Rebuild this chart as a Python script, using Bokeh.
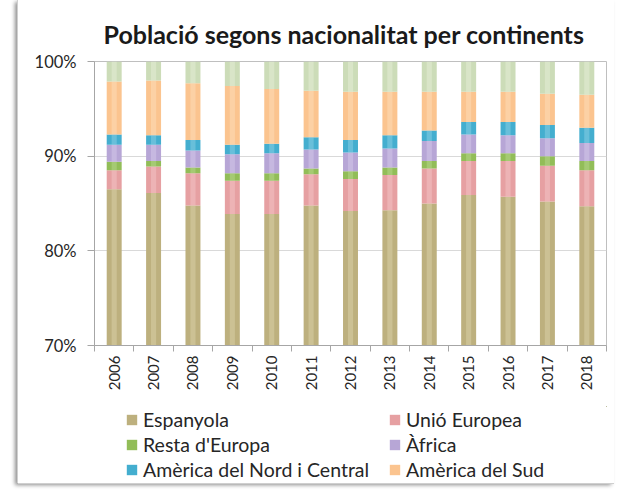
from bokeh.plotting import figure
from bokeh.models import (FixedTicker, PrintfTickFormatter, Legend, LegendItem, Spacer,
                          ColumnDataSource, Range1d)
from bokeh.layouts import row, column
from bokeh.embed import file_html
from bokeh.resources import INLINE
from math import pi

years = [2006, 2007, 2008, 2009, 2010, 2011, 2012, 2013, 2014, 2015, 2016, 2017, 2018]
series_names = ["Espanyola", "Unió Europea", "Resta d'Europa", "Àfrica",
                "Amèrica del Nord i Central", "Amèrica del Sud", "Àsia i Oceania"]
espanyola = [86.5, 86.1, 84.8, 83.9, 83.9, 84.8, 84.2, 84.3, 85.0, 85.9, 85.7, 85.2, 84.7]
unio_europea = [2.0, 2.8, 3.4, 3.5, 3.5, 3.3, 3.4, 3.7, 3.7, 3.6, 3.8, 3.8, 3.8]
resta_europa = [0.9, 0.6, 0.6, 0.8, 0.8, 0.6, 0.8, 0.8, 0.8, 0.8, 0.8, 1.0, 1.0]
africa = [1.8, 1.7, 1.8, 2.0, 2.1, 2.0, 2.0, 2.0, 2.1, 2.0, 1.9, 1.9, 1.9]
america_nc = [1.1, 1.0, 1.1, 1.0, 1.0, 1.3, 1.3, 1.4, 1.1, 1.3, 1.4, 1.4, 1.6]
america_sud = [5.6, 5.8, 6.0, 6.2, 5.8, 4.9, 5.1, 4.6, 4.1, 3.2, 3.2, 3.3, 3.5]
asia_oceania = [2.1, 2.0, 2.3, 2.6, 2.9, 3.1, 3.2, 3.2, 3.2, 3.2, 3.2, 3.4, 3.5]
y_ticks = [70, 80, 90, 100]

colors = ["#BDB07E", "#E6A0A2", "#92BD58", "#B7A6D6", "#44AECF", "#FBC48F", "#CCDCB8"]
highlights = ["#D8CFA6", "#F2C3C4", "#B5D68A", "#D3C7EA", "#86CDE3", "#FDDDB8", "#E3EDD6"]

values = [espanyola, unio_europea, resta_europa, africa, america_nc, america_sud, asia_oceania]
keys = ["s%d" % i for i in range(len(values))]
data = {"year": years}
for k, v in zip(keys, values):
    data[k] = v
source = ColumnDataSource(data)

FONT = "Lato"

p = figure(width=596, height=406, x_range=(2005.5, 2018.5), y_range=(70, 100),
           output_backend="svg", toolbar_location=None,
           min_border_left=76, min_border_right=8, min_border_top=61, min_border_bottom=61)

renderers = p.vbar_stack(keys, x="year", width=0.38, source=source, color=colors,
                         line_color=None)
# highlight strip to mimic the cylindrical look
hl = p.vbar_stack(keys, x="year", width=0.13, source=source, color=highlights,
                  line_color=None, fill_alpha=0.55)

p.title.text = "Població segons nacionalitat per continents"
p.title.align = "left"
p.title.text_font = FONT
p.title.text_font_size = "25px"
p.title.text_font_style = "bold"
p.title.text_color = "#1a1a1a"
p.title.offset = 9
p.title.standoff = 26

p.outline_line_color = "#bfbfbf"
p.background_fill_color = "white"
p.border_fill_color = "white"

p.xgrid.grid_line_color = None
p.ygrid.grid_line_color = "#d9d9d9"
p.ygrid.ticker = FixedTicker(ticks=y_ticks)

p.yaxis.ticker = FixedTicker(ticks=y_ticks)
p.yaxis.formatter = PrintfTickFormatter(format="%d%%")
p.yaxis.axis_line_color = "#a6a6a6"
p.yaxis.major_tick_line_color = "#a6a6a6"
p.yaxis.major_tick_out = 7
p.yaxis.major_tick_in = 0
p.yaxis.minor_tick_line_color = None
p.yaxis.major_label_text_font = FONT
p.yaxis.major_label_text_font_size = "16.5px"
p.yaxis.major_label_text_color = "#262626"
p.yaxis.major_label_standoff = 11

p.xaxis.ticker = FixedTicker(ticks=years, minor_ticks=[y - 0.5 for y in years] + [years[-1] + 0.5])
p.xaxis.formatter = PrintfTickFormatter(format="%d")
p.xaxis.axis_line_color = "#a6a6a6"
p.xaxis.major_tick_line_color = None
p.xaxis.major_tick_out = 0
p.xaxis.major_tick_in = 0
p.xaxis.minor_tick_line_color = "#a6a6a6"
p.xaxis.minor_tick_out = 6
p.xaxis.minor_tick_in = 0
p.xaxis.major_label_orientation = pi / 2
p.xaxis.major_label_text_font = FONT
p.xaxis.major_label_text_font_size = "15px"
p.xaxis.major_label_text_color = "#262626"
p.xaxis.major_label_standoff = 4

# legend panel (second figure, same chart box); swatch bars lie outside its view
q = figure(width=596, height=77, output_backend="svg", toolbar_location=None,
           x_axis_type=None, y_axis_type=None,
           x_range=Range1d(1990, 2000), y_range=Range1d(-30, -20),
           min_border_left=76, min_border_right=8, min_border_top=0, min_border_bottom=0)
q.outline_line_color = None
q.xgrid.grid_line_color = None
q.ygrid.grid_line_color = None
swatches = [q.vbar(x="year", top=keys[i], width=0.5, source=source, color=colors[i],
                   line_color=None) for i in range(6)]

legend_rows = [(0, 1), (2, 3), (4, 5)]
row_y = [52, 27, 2]
for (a, b), yy in zip(legend_rows, row_y):
    items = [LegendItem(label=series_names[i], renderers=[swatches[i]]) for i in (a, b)]
    lg = Legend(items=items, orientation="horizontal", location=(31, yy), margin=0,
                glyph_width=13, glyph_height=13, label_height=21, label_width=235,
                spacing=10, label_standoff=5, padding=0,
                border_line_color=None, background_fill_alpha=0,
                label_text_font=FONT, label_text_font_size="19.5px",
                label_text_color="#262626")
    q.add_layout(lg, "center")

box = column(p, q, spacing=0)
box.styles = {"box-shadow": "-1px 0 0 0 #cfcfcf, 0 -1px 0 0 #cfcfcf, 0 1px 0 0 #cfcfcf, "
                            "-3px 2px 4px #8c8c8c"}

layout = row(Spacer(width=18), box)
open("out.html", "w").write(file_html(layout, INLINE))
